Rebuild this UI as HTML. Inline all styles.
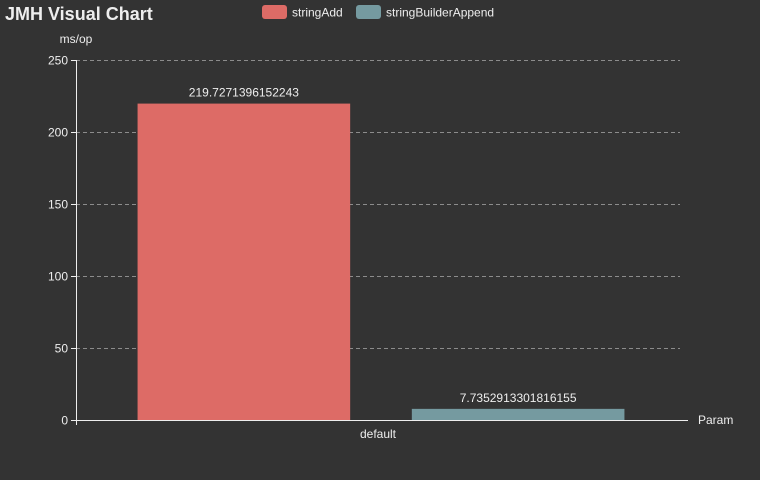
<!DOCTYPE html>
<html><head><meta charset="utf-8"><style>
html,body{margin:0;padding:0;background:#333333;}
svg{display:block;font-family:"Liberation Sans",sans-serif;}
</style></head><body>
<svg id="chart" width="760" height="480">
<rect width="760" height="480" fill="#333333"/>
<text x="5" y="20" font-size="18" font-weight="bold" fill="#eeeeee">JMH Visual Chart</text>
<g>
<g><rect x="262" y="5" width="25" height="14" rx="3" fill="#dd6b66"/><text x="292" y="16.5" font-size="12" fill="#eeeeee">stringAdd</text></g>
<g><rect x="356" y="5" width="25" height="14" rx="3" fill="#759aa0"/><text x="386" y="16.5" font-size="12" fill="#eeeeee">stringBuilderAppend</text></g>
</g>
<text x="76" y="43" font-size="12" fill="#eeeeee" text-anchor="middle">ms/op</text>
<text x="698" y="424" font-size="12" fill="#eeeeee">Param</text>
<g id="grid"></g>
<g id="bars"></g>
<g id="axes"></g>
</svg>
<script>
const categories = ["default"];
const seriesNames = ["stringAdd", "stringBuilderAppend"];
const stringAddValues = [219.7271396152243];
const stringBuilderAppendValues = [7.7352913301816155];
const yTicks = [0, 50, 100, 150, 200, 250];
const seriesColors = ["#dd6b66", "#759aa0"];

const NS = "http://www.w3.org/2000/svg";
const X0 = 76, X1 = 680, Y0 = 420, Y1 = 60, YMAX = 250;
const y = v => Y0 - (v / YMAX) * (Y0 - Y1);
const band = (X1 - X0) / categories.length;
const xc = i => X0 + band * (i + 0.5);
function mk(tag, attrs, parent, text) {
  const e = document.createElementNS(NS, tag);
  for (const k in attrs) e.setAttribute(k, attrs[k]);
  if (text !== undefined) e.textContent = text;
  parent.appendChild(e);
  return e;
}
const grid = document.getElementById("grid");
const axes = document.getElementById("axes");
const bars = document.getElementById("bars");
yTicks.forEach(t => {
  const yy = Math.round(y(t)) + 0.5;
  if (t > 0) {
    const g = mk("line", {x1: X0, x2: X1, y1: yy, y2: yy, stroke: "#aaaaaa", "stroke-dasharray": "4,3", "stroke-width": 0.8}, grid);
    
    
  }
  const tk = mk("line", {x1: X0 - 5, x2: X0, y1: yy, y2: yy, stroke: "#eeeeee"}, axes);
  
  
  const lb = mk("text", {x: X0 - 8, y: yy + 4, "font-size": 12, fill: "#eeeeee", "text-anchor": "end"}, axes, String(t));
  
  
});
const ya = mk("line", {x1: X0 + 0.5, x2: X0 + 0.5, y1: Y1, y2: Y0, stroke: "#eeeeee"}, axes);


const xa = mk("line", {x1: X0, x2: X1 + 8, y1: Y0 + 0.5, y2: Y0 + 0.5, stroke: "#eeeeee"}, axes);


const allSeries = [stringAddValues, stringBuilderAppendValues];
const bw = band * 0.352, gap = bw * 0.29;
categories.forEach((c, i) => {
  const xt = mk("line", {x1: X0 + 0.5 + band * i, x2: X0 + 0.5 + band * i, y1: Y0, y2: Y0 + 5, stroke: "#eeeeee"}, axes);
  
  
  const xl = mk("text", {x: xc(i), y: Y0 + 18, "font-size": 12, fill: "#eeeeee", "text-anchor": "middle"}, axes, c);
  
  
  const n = allSeries.length;
  const total = n * bw + (n - 1) * gap;
  allSeries.forEach((vals, s) => {
    const left = xc(i) + 3 - total / 2 + s * (bw + gap);
    const top = y(vals[i]);
    const r = mk("rect", {x: left, y: top, width: bw, height: Y0 - top, fill: seriesColors[s]}, bars);
    
    
    const t = mk("text", {x: left + bw / 2, y: top - 7, "font-size": 12, fill: "#eeeeee", "text-anchor": "middle"}, bars, String(vals[i]));
    
    
  });
});
</script>
</body></html>
